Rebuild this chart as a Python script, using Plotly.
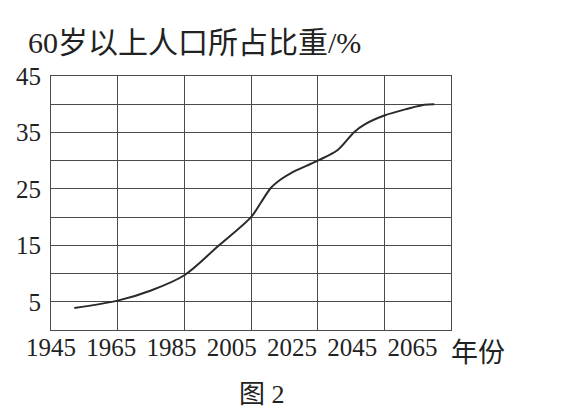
import plotly.graph_objects as go

# Data
years = [1952, 1965, 1975, 1985, 1995, 2005, 2008, 2011, 2014, 2017, 2025, 2031, 2036, 2039, 2045, 2052, 2057, 2060]
share = [3.9, 5.2, 7.0, 9.7, 14.8, 20.0, 22.6, 25.2, 26.7, 27.8, 30.0, 31.9, 35.1, 36.4, 38.0, 39.2, 39.9, 40.0]

x_ticks = [1945, 1965, 1985, 2005, 2025, 2045, 2065]
y_ticks = [5, 15, 25, 35, 45]

y_title = "60岁以上人口所占比重/%"
x_title = "年份"
caption = "图 2"

FONT = "Liberation Serif, Noto Sans CJK SC, serif"
GRID = "#4a4a4a"

fig = go.Figure()
fig.add_trace(go.Scatter(
    x=years, y=share, mode="lines",
    line=dict(color="#2a2a2a", width=2, shape="spline", smoothing=0.9),
    showlegend=False, hoverinfo="skip",
))
# helper trace so the label axis (x2) is drawn
fig.add_trace(go.Scatter(
    x=x_ticks, y=[None] * len(x_ticks), xaxis="x2", mode="lines",
    showlegend=False, hoverinfo="skip",
))

fig.update_layout(
    width=573, height=414,
    margin=dict(l=51, r=122, t=76, b=84, autoexpand=False),
    paper_bgcolor="white", plot_bgcolor="white",
    font=dict(family=FONT, size=25, color="#222"),
    hovermode=False,
    xaxis=dict(
        range=[1945, 2065], tickvals=x_ticks, showticklabels=False,
        showgrid=True, gridcolor=GRID, gridwidth=1,
        showline=True, linecolor=GRID, linewidth=1, mirror=True,
        zeroline=False, ticks="",
    ),
    # tick labels in the reference are set slightly tighter than the grid
    xaxis2=dict(
        overlaying="x", side="bottom", anchor="y",
        range=[1945, 2077.8], tickvals=x_ticks, ticktext=[str(v) for v in x_ticks],
        showgrid=False, showline=False, zeroline=False, ticks="", ticklabelstandoff=0,
        tickfont=dict(family=FONT, size=25, color="#222"),
    ),
    yaxis=dict(
        range=[0, 45], tickvals=y_ticks, ticktext=[str(v) for v in y_ticks],
        showgrid=True, gridcolor=GRID, gridwidth=1,
        minor=dict(dtick=5, tick0=0, showgrid=True, gridcolor=GRID, gridwidth=1),
        showline=True, linecolor=GRID, linewidth=1, mirror=True,
        zeroline=False, ticks="", ticklabelstandoff=4,
        tickfont=dict(family=FONT, size=25, color="#222"),
    ),
    annotations=[
        dict(text=y_title, xref="paper", yref="paper", x=-0.062, y=1.13,
             xanchor="left", yanchor="middle", showarrow=False,
             font=dict(family=FONT, size=30, color="#222")),
        dict(text=x_title, xref="paper", yref="paper", x=1.0675, y=-0.09,
             xanchor="center", yanchor="middle", showarrow=False,
             font=dict(family=FONT, size=27, color="#222")),
        dict(text=caption, xref="paper", yref="paper", x=0.5275, y=-0.255,
             xanchor="center", yanchor="middle", showarrow=False,
             font=dict(family=FONT, size=26, color="#222")),
    ],
)

fig.write_html("out.html", config={"displayModeBar": False},
               post_script="document.body.style.margin='0';")
